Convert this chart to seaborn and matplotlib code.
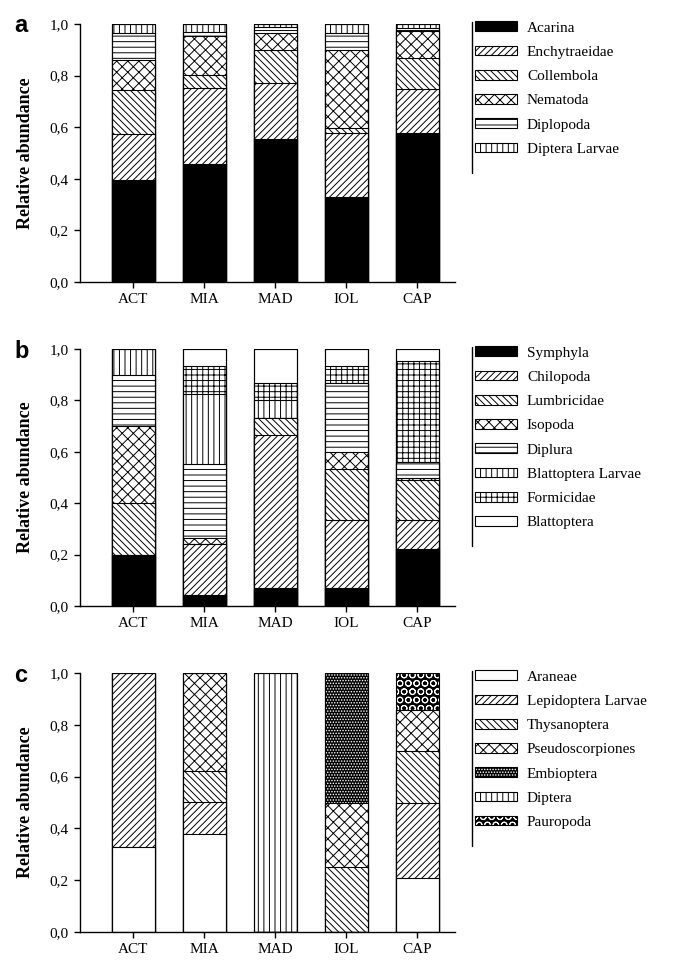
import seaborn as sns
import pandas as pd
import matplotlib.pyplot as plt
import numpy as np
from matplotlib.patches import Patch
from matplotlib.lines import Line2D
from matplotlib.ticker import FuncFormatter

sites = ["ACT", "MIA", "MAD", "IOL", "CAP"]

# panel a
acarina = [0.395, 0.457, 0.554, 0.33, 0.577]
enchytraeidae = [0.18, 0.295, 0.217, 0.247, 0.171]
collembola = [0.17, 0.05, 0.129, 0.02, 0.12]
nematoda = [0.115, 0.153, 0.065, 0.303, 0.105]
diplopoda = [0.105, 0.015, 0.025, 0.065, 0.012]
diptera_larvae = [0.035, 0.03, 0.01, 0.035, 0.015]

# panel b
symphyla = [0.2, 0.043, 0.07, 0.07, 0.22]
chilopoda = [0.0, 0.2, 0.595, 0.265, 0.115]
lumbricidae = [0.2, 0.0, 0.065, 0.198, 0.155]
isopoda = [0.3, 0.02, 0.0, 0.067, 0.01]
diplura = [0.2, 0.29, 0.0, 0.268, 0.06]
blattoptera_larvae = [0.1, 0.27, 0.07, 0.0, 0.0]
formicidae = [0.0, 0.11, 0.068, 0.066, 0.393]
blattoptera = [0.0, 0.067, 0.132, 0.066, 0.047]

# panel c
araneae = [0.33, 0.378, 0.0, 0.0, 0.21]
lepidoptera_larvae = [0.67, 0.124, 0.0, 0.0, 0.29]
thysanoptera = [0.0, 0.12, 0.0, 0.25, 0.2]
pseudoscorpiones = [0.0, 0.378, 0.0, 0.25, 0.157]
embioptera = [0.0, 0.0, 0.0, 0.5, 0.0]
diptera = [0.0, 0.0, 1.0, 0.0, 0.0]
pauropoda = [0.0, 0.0, 0.0, 0.0, 0.143]

# (face, hatch, hatch/edge colour)
SOLID = ("black", "", "black")
FWD = ("white", "/////", "black")
BCK = ("white", "\\\\\\\\\\", "black")
CROSS = ("white", "xxx", "black")
HOR = ("white", "---", "black")
VER = ("white", "|||", "black")
GRID = ("white", "+++", "black")
EMPTY = ("white", "", "black")
DOTS = ("black", "......", "white")
CIRC = ("black", "OO", "white")

panels = [
    ("a",
     ["Acarina", "Enchytraeidae", "Collembola", "Nematoda", "Diplopoda", "Diptera Larvae"],
     [acarina, enchytraeidae, collembola, nematoda, diplopoda, diptera_larvae],
     [SOLID, FWD, BCK, CROSS, HOR, VER]),
    ("b",
     ["Symphyla", "Chilopoda", "Lumbricidae", "Isopoda", "Diplura",
      "Blattoptera Larvae", "Formicidae", "Blattoptera"],
     [symphyla, chilopoda, lumbricidae, isopoda, diplura, blattoptera_larvae,
      formicidae, blattoptera],
     [SOLID, FWD, BCK, CROSS, HOR, VER, GRID, EMPTY]),
    ("c",
     ["Araneae", "Lepidoptera Larvae", "Thysanoptera", "Pseudoscorpiones",
      "Embioptera", "Diptera", "Pauropoda"],
     [araneae, lepidoptera_larvae, thysanoptera, pseudoscorpiones, embioptera,
      diptera, pauropoda],
     [EMPTY, FWD, BCK, CROSS, DOTS, VER, CIRC]),
]

sns.set_style("ticks")
plt.rcParams["font.family"] = ["Liberation Serif", "DejaVu Serif"]
plt.rcParams["hatch.linewidth"] = 0.7
plt.rcParams["axes.linewidth"] = 1.0
plt.rcParams["text.color"] = "black"
plt.rcParams["axes.labelcolor"] = "black"

W, H = 675, 960
fig = plt.figure(figsize=(W / 100, H / 100), dpi=100)

# pixel layout of each panel: (top of 1.0, bottom at 0.0)
rows_px = [(24, 282), (349, 606), (673, 932)]
left_px, right_px = 80, 455

legends = []
for (letter, names, layers, styles), (top, bot) in zip(panels, rows_px):
    ax = fig.add_axes([left_px / W, 1 - bot / H, (right_px - left_px) / W, (bot - top) / H])
    cum = np.cumsum(np.array(layers), axis=0)
    # draw cumulative bars from the top layer down so lower layers cover upper ones
    for i in reversed(range(len(names))):
        face, hatch, hcol = styles[i]
        df = pd.DataFrame({"site": sites, "value": cum[i]})
        sns.barplot(data=df, x="site", y="value", order=sites, color=face,
                    edgecolor=hcol if face == "black" and hatch else "black",
                    hatch=hatch, linewidth=0.8, width=0.6, saturation=1,
                    errorbar=None, ax=ax)
    # outline on top
    df = pd.DataFrame({"site": sites, "value": cum[-1]})
    sns.barplot(data=df, x="site", y="value", order=sites, fill=False,
                color="black", linewidth=0.8, width=0.6, errorbar=None, ax=ax)

    ax.set_xlim(-0.75, 4.53)
    ax.set_ylim(0, 1.0)
    ax.set_yticks(np.arange(0, 1.01, 0.2))
    ax.yaxis.set_major_formatter(FuncFormatter(lambda v, p: f"{v:.1f}".replace(".", ",")))
    ax.set_xlabel("")
    ax.set_ylabel("Relative abundance", fontsize=13, fontweight="bold", labelpad=11)
    ax.tick_params(axis="both", labelsize=11, length=4, width=1.0, color="black",
                   labelcolor="black", pad=4)
    for s in ["left", "bottom"]:
        ax.spines[s].set_color("black")
    sns.despine(ax=ax)
    fig.text(14 / W, 1 - (top + 2) / H, letter, fontsize=17, fontweight="bold",
             family="Liberation Sans", va="center", ha="left", color="black")

    handles = []
    for face, hatch, hcol in styles:
        if face == "black" and hatch:
            handles.append((Patch(facecolor=face, edgecolor=hcol, hatch=hatch, linewidth=0),
                            Patch(fill=False, edgecolor="black", linewidth=0.8)))
        else:
            handles.append(Patch(facecolor=face, edgecolor="black", hatch=hatch, linewidth=0.8))
    leg = ax.legend(handles, names, loc="upper left", bbox_to_anchor=(1.045, 1.022),
                    frameon=False, fontsize=11, handlelength=2.75, handleheight=0.6,
                    labelspacing=0.72, handletextpad=0.65, borderpad=0.2,
                    borderaxespad=0)
    legends.append(leg)

fig.canvas.draw()
inv = fig.transFigure.inverted()
for leg in legends:
    bb = leg.get_window_extent().transformed(inv)
    fig.add_artist(Line2D([bb.x0, bb.x0], [bb.y0 - 14 / H, bb.y1 - 4 / H], color="black",
                          lw=1.0, transform=fig.transFigure))

fig.savefig("out.png", dpi=100)
